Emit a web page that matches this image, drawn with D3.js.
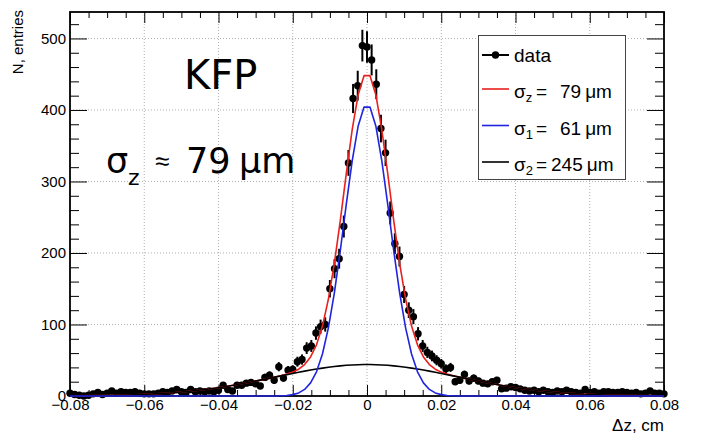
<!DOCTYPE html>
<html>
<head>
<meta charset="utf-8">
<script src="https://cdn.jsdelivr.net/npm/d3@7"></script>
<style>
  body { margin: 0; background: #fff; }
  svg { display: block; font-family: "Liberation Sans", Arial, sans-serif; }
</style>
</head>
<body>
<svg id="chart" width="702" height="448"></svg>
<script>
// histogram of dz: 129 bins, 0.00125 cm wide, centred from -0.08 to 0.08
const binStart = -0.08;
const binWidth = 0.00125;
const counts = [
  4, 2, 1, 0, 1, 3, 5, 2, 4, 7, 4, 6, 5, 5, 6, 4,
  3, 3, 3, 4, 6, 5, 7, 9, 6, 5, 9, 6, 7, 6, 7, 6,
  8, 15, 9, 7, 15, 15, 18, 19, 17, 14, 26, 29, 22, 41, 25, 36,
  37, 48, 51, 67, 70, 88, 97, 100, 150, 178, 192, 237, 326, 416, 434, 490,
  488,
  470, 436, 374, 340, 256, 213, 195, 142, 120, 111, 87, 70, 61, 56, 50, 45,
  38, 40, 20, 22, 30, 21, 25, 21, 18, 17, 20, 22, 10, 11, 13, 12,
  10, 8, 7, 8, 6, 8, 6, 5, 7, 6, 8, 6, 5, 4, 9, 5,
  6, 4, 6, 6, 5, 5, 6, 5, 4, 5, 3, 4, 7, 4, 4, 3
];

// fitted curves at these points
const fitX = [
  -0.08, -0.072, -0.064, -0.058, -0.052, -0.046, -0.04, -0.036, -0.032, -0.028,
  -0.0248, -0.0232, -0.0216, -0.02, -0.0184, -0.0168, -0.0152, -0.0136, -0.012, -0.0104,
  -0.0088, -0.0072, -0.0056, -0.004, -0.0024, -0.0008,
  0.0008, 0.0024, 0.004, 0.0056, 0.0072, 0.0088, 0.0104, 0.012, 0.0136, 0.0152,
  0.0168, 0.0184, 0.02, 0.0216, 0.0232, 0.0248,
  0.028, 0.032, 0.036, 0.04, 0.046, 0.052, 0.058, 0.064, 0.072, 0.08
];
const fitTotal = [
  0.2, 0.6, 1.5, 2.7, 4.6, 7.6, 11.6, 15.0, 18.8, 22.9,
  26.5, 28.4, 30.6, 33.4, 37.5, 44.0, 54.6, 71.6, 97.8, 135.5,
  185.2, 245.2, 310.3, 372.0, 420.9, 448.0,
  448.0, 420.9, 372.0, 310.3, 245.2, 185.2, 135.5, 97.8, 71.6, 54.6,
  44.0, 37.5, 33.4, 30.6, 28.4, 26.5,
  22.9, 18.8, 15.0, 11.6, 7.6, 4.6, 2.7, 1.5, 0.6, 0.2
];
const fitCore = [
  0, 0, 0, 0, 0, 0, 0, 0, 0, 0,
  0.1, 0.3, 0.8, 1.9, 4.3, 9.2, 18.3, 33.9, 58.8, 95.3,
  143.9, 203.1, 267.4, 328.6, 377.1, 404.0,
  404.0, 377.1, 328.6, 267.4, 203.1, 143.9, 95.3, 58.8, 33.9, 18.3,
  9.2, 4.3, 1.9, 0.8, 0.3, 0.1,
  0, 0, 0, 0, 0, 0, 0, 0, 0, 0
];
const fitTail = [
  0.2, 0.6, 1.5, 2.7, 4.6, 7.6, 11.6, 15.0, 18.8, 22.9,
  26.4, 28.1, 29.8, 31.5, 33.2, 34.8, 36.3, 37.7, 39.0, 40.2,
  41.3, 42.1, 42.9, 43.4, 43.8, 44.0,
  44.0, 43.8, 43.4, 42.9, 42.1, 41.3, 40.2, 39.0, 37.7, 36.3,
  34.8, 33.2, 31.5, 29.8, 28.1, 26.4,
  22.9, 18.8, 15.0, 11.6, 7.6, 4.6, 2.7, 1.5, 0.6, 0.2
];

const xTicks = [-0.08, -0.06, -0.04, -0.02, 0, 0.02, 0.04, 0.06, 0.08];
const xTickLabels = ["\u22120.08", "\u22120.06", "\u22120.04", "\u22120.02", "0", "0.02", "0.04", "0.06", "0.08"];
const yTicks = [0, 100, 200, 300, 400, 500];
const yTickLabels = ["0", "100", "200", "300", "400", "500"];

const legendSubs = ["z", "1", "2"];
const legendValues = ["79", "61", "245"];
const legendColors = ["#e8211f", "#1f24e0", "#000"];

const width = 702, height = 448;
const margin = {top: 12, right: 38, bottom: 52, left: 70};

const svg = d3.select("#chart");

const x = d3.scaleLinear()
    .domain([-0.08, 0.08])
    .range([margin.left, width - margin.right]);

const y = d3.scaleLinear()
    .domain([0, 537])
    .range([height - margin.bottom, margin.top]);

const xMinor = d3.range(-0.08, 0.0801, 0.005).filter(v => Math.abs(v * 50 - Math.round(v * 50)) > 1e-6);
const yMinor = d3.range(20, 537, 20).filter(v => v % 100 !== 0);

// grid
const grid = svg.append("g")
    .attr("stroke", "#b0b0b0")
    .attr("stroke-width", 1)
    .attr("stroke-dasharray", "1,2");
grid.selectAll(".gx")
  .data(xTicks.slice(1, -1))
  .join("line")
    .attr("x1", d => x(d)).attr("x2", d => x(d))
    .attr("y1", y(537)).attr("y2", y(0));
grid.selectAll(".gy")
  .data(yTicks.slice(1))
  .join("line")
    .attr("x1", x(-0.08)).attr("x2", x(0.08))
    .attr("y1", d => y(d)).attr("y2", d => y(d));

function tidy(g) {
  g.select(".domain").remove();
  g.selectAll("line").attr("stroke", "#000");
  g.selectAll("text")
      .attr("font-family", "'Liberation Sans', Arial, sans-serif")
      .attr("font-size", 15)
      .attr("fill", "#000");
}

// bottom + top
svg.append("g")
    .attr("transform", `translate(0,${y(0)})`)
    .call(d3.axisBottom(x).tickValues(xTicks).tickSizeInner(-11).tickSizeOuter(0)
      .tickPadding(3).tickFormat((d, i) => xTickLabels[i]))
    .call(tidy);
svg.append("g")
    .attr("transform", `translate(0,${y(0)})`)
    .call(d3.axisBottom(x).tickValues(xMinor).tickSizeInner(-6).tickSizeOuter(0).tickFormat(""))
    .call(tidy);
svg.append("g")
    .attr("transform", `translate(0,${y(537)})`)
    .call(d3.axisTop(x).tickValues(xTicks).tickSizeInner(-11).tickSizeOuter(0).tickFormat(""))
    .call(tidy);
svg.append("g")
    .attr("transform", `translate(0,${y(537)})`)
    .call(d3.axisTop(x).tickValues(xMinor).tickSizeInner(-6).tickSizeOuter(0).tickFormat(""))
    .call(tidy);

// left + right
svg.append("g")
    .attr("transform", `translate(${x(-0.08)},0)`)
    .call(d3.axisLeft(y).tickValues(yTicks).tickSizeInner(-17).tickSizeOuter(0)
      .tickPadding(4).tickFormat((d, i) => yTickLabels[i]))
    .call(tidy);
svg.append("g")
    .attr("transform", `translate(${x(-0.08)},0)`)
    .call(d3.axisLeft(y).tickValues(yMinor).tickSizeInner(-9).tickSizeOuter(0).tickFormat(""))
    .call(tidy);
svg.append("g")
    .attr("transform", `translate(${x(0.08)},0)`)
    .call(d3.axisRight(y).tickValues(yTicks).tickSizeInner(-17).tickSizeOuter(0).tickFormat(""))
    .call(tidy);
svg.append("g")
    .attr("transform", `translate(${x(0.08)},0)`)
    .call(d3.axisRight(y).tickValues(yMinor).tickSizeInner(-9).tickSizeOuter(0).tickFormat(""))
    .call(tidy);

// frame
svg.append("rect")
    .attr("x", x(-0.08)).attr("y", y(537))
    .attr("width", x(0.08) - x(-0.08)).attr("height", y(0) - y(537))
    .attr("fill", "none").attr("stroke", "#000").attr("stroke-width", 1.8);

// axis titles
svg.append("text")
    .attr("transform", `translate(23,${y(537) - 2}) rotate(-90)`)
    .attr("text-anchor", "end")
    .attr("font-size", 15)
    .text("N, entries");
svg.append("text")
    .attr("x", x(0.08)).attr("y", 431)
    .attr("text-anchor", "end")
    .attr("font-size", 17)
    .text("\u0394z, cm");

// data points
const points = counts.map((n, i) => ({x: binStart + i * binWidth, n}));
const dataG = svg.append("g");
dataG.selectAll("line")
  .data(points.filter(d => d.n > 0))
  .join("line")
    .attr("x1", d => x(d.x)).attr("x2", d => x(d.x))
    .attr("y1", d => y(d.n - Math.sqrt(d.n)))
    .attr("y2", d => y(d.n + Math.sqrt(d.n)))
    .attr("stroke", "#000").attr("stroke-width", 2);
dataG.selectAll("circle")
  .data(points)
  .join("circle")
    .attr("cx", d => x(d.x)).attr("cy", d => y(d.n))
    .attr("r", 3.7)
    .attr("fill", "#000");

// fit curves
const line = d3.line()
    .x((d, i) => x(fitX[i]))
    .y(d => y(d));
[[fitTotal, legendColors[0]], [fitTail, legendColors[2]], [fitCore, legendColors[1]]].forEach(([vals, c]) => {
  svg.append("path")
      .datum(vals)
      .attr("fill", "none")
      .attr("stroke", c)
      .attr("stroke-width", 1.6)
      .attr("stroke-linejoin", "round")
      .attr("d", line);
});

// big labels
const serif = "'DejaVu Sans', Verdana, sans-serif";
svg.append("text")
    .attr("x", 184).attr("y", 89)
    .attr("font-family", serif).attr("font-size", 40)
    .text("KFP");
const sz = svg.append("g").attr("font-family", serif);
sz.append("text").attr("x", 106).attr("y", 173).attr("font-size", 35).text("\u03c3");
sz.append("text").attr("x", 128).attr("y", 185).attr("font-size", 22).text("z");
sz.append("text").attr("x", 155).attr("y", 170).attr("font-size", 26)
    .attr("font-family", "'Liberation Sans', Arial, sans-serif").text("\u2248");
sz.append("text").attr("x", 186).attr("y", 173).attr("font-size", 35).text(legendValues[0]);
sz.append("text").attr("x", 239).attr("y", 173).attr("font-size", 35).text("\u03bcm");

// legend
const lg = svg.append("g");
lg.append("rect")
    .attr("x", 478.5).attr("y", 35.5).attr("width", 147).attr("height", 144)
    .attr("fill", "#fff").attr("stroke", "#444").attr("stroke-width", 1);
lg.append("line")
    .attr("x1", 482).attr("x2", 509).attr("y1", 55).attr("y2", 55)
    .attr("stroke", "#000").attr("stroke-width", 2);
lg.append("circle").attr("cx", 495.5).attr("cy", 55).attr("r", 3.7).attr("fill", "#000");
lg.append("text").attr("x", 514).attr("y", 62).attr("font-size", 19).text("data");

legendSubs.forEach((s, i) => {
  const cy = 89 + i * 36.5;
  lg.append("line")
      .attr("x1", 482).attr("x2", 509).attr("y1", cy).attr("y2", cy)
      .attr("stroke", legendColors[i]).attr("stroke-width", 1.6);
  const t = lg.append("text").attr("x", 514).attr("y", cy + 9).attr("font-size", 19);
  t.append("tspan").text("\u03c3");
  t.append("tspan").attr("font-size", 13).attr("dy", 4).text(s);
  t.append("tspan").attr("dy", -4).attr("x", 536).text("=");
  t.append("tspan").attr("x", legendValues[i].length === 2 ? 560 : 551).text(legendValues[i]);
  t.append("tspan").attr("dx", 4).text("\u03bcm");
});
</script>
</body>
</html>
